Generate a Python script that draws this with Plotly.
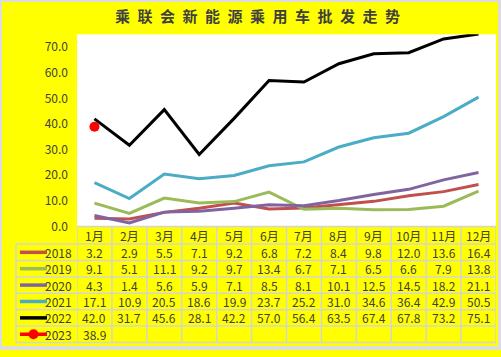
import plotly.graph_objects as go

months = ["1月", "2月", "3月", "4月", "5月", "6月", "7月", "8月", "9月", "10月", "11月", "12月"]
years = ["2018", "2019", "2020", "2021", "2022", "2023"]
v2018 = [3.2, 2.9, 5.5, 7.1, 9.2, 6.8, 7.2, 8.4, 9.8, 12.0, 13.6, 16.4]
v2019 = [9.1, 5.1, 11.1, 9.2, 9.7, 13.4, 6.7, 7.1, 6.5, 6.6, 7.9, 13.8]
v2020 = [4.3, 1.4, 5.6, 5.9, 7.1, 8.5, 8.1, 10.1, 12.5, 14.5, 18.2, 21.1]
v2021 = [17.1, 10.9, 20.5, 18.6, 19.9, 23.7, 25.2, 31.0, 34.6, 36.4, 42.9, 50.5]
v2022 = [42.0, 31.7, 45.6, 28.1, 42.2, 57.0, 56.4, 63.5, 67.4, 67.8, 73.2, 75.1]
v2023 = [38.9]
y_ticks = [0, 10, 20, 30, 40, 50, 60, 70]

series = [v2018, v2019, v2020, v2021, v2022, v2023]
colors = ["#c0504d", "#9bbb59", "#8064a2", "#4bacc6", "#000000", "#ff0000"]

W, H = 501, 357
FONT = "Noto Sans CJK SC"
TXT = "#404040"
GRID = "#d4d4d4"


def px(x):
    return x / W


def py(y):
    return 1 - y / H


fig = go.Figure()
for yr, vals, col in zip(years, series, colors):
    if yr == "2023":
        fig.add_trace(go.Scatter(x=months[:len(vals)], y=vals, mode="lines+markers",
                                 line=dict(color=col, width=3), marker=dict(color=col, size=10),
                                 name=yr, showlegend=False))
    else:
        fig.add_trace(go.Scatter(x=months[:len(vals)], y=vals, mode="lines",
                                 line=dict(color=col, width=3), name=yr, showlegend=False))

shapes = []
annotations = []

# outer gray border
for (x0, y0, x1, y1) in [(0, 0, W, 2), (0, 353, W, H), (0, 0, 2, H), (498, 0, W, H)]:
    shapes.append(dict(type="rect", xref="paper", yref="paper", x0=px(x0), x1=px(x1),
                       y0=py(y1), y1=py(y0), fillcolor="#dcdcdc", line=dict(width=0), layer="above"))

plot_left, plot_right = 77, 496
header_top, header_bot = 231, 249
row_h = (349.3 - 249) / 6
row_edges = [header_bot + k * row_h for k in range(7)]

# horizontal table lines
shapes.append(dict(type="line", xref="paper", yref="paper", x0=px(plot_left), x1=px(plot_right),
                   y0=py(header_top), y1=py(header_top), line=dict(color=GRID, width=1.5)))
for ye in row_edges:
    shapes.append(dict(type="line", xref="paper", yref="paper", x0=px(16), x1=px(plot_right),
                       y0=py(ye), y1=py(ye), line=dict(color=GRID, width=1.5)))
# vertical lines
shapes.append(dict(type="line", xref="paper", yref="paper", x0=px(16), x1=px(16),
                   y0=py(row_edges[0]), y1=py(row_edges[-1]), line=dict(color=GRID, width=1.5)))
for i in range(len(months) + 1):
    shapes.append(dict(type="line", xref="x", yref="paper", x0=i - 0.5, x1=i - 0.5,
                       y0=py(header_top), y1=py(row_edges[-1]), line=dict(color=GRID, width=1.5)))

# header
hdr_y = py((header_top + header_bot) / 2)
for m in months:
    annotations.append(dict(x=m, xref="x", y=hdr_y, yref="paper", text=m, showarrow=False,
                            font=dict(family=FONT, size=12, color=TXT), xanchor="center", yanchor="middle"))

# rows
for r, (yr, vals, col) in enumerate(zip(years, series, colors)):
    yc = py((row_edges[r] + row_edges[r + 1]) / 2)
    shapes.append(dict(type="line", xref="paper", yref="paper", x0=px(20), x1=px(47), y0=yc, y1=yc,
                       line=dict(color=col, width=3.5)))
    if yr == "2023":
        shapes.append(dict(type="circle", xref="paper", yref="paper", xsizemode="pixel", ysizemode="pixel",
                           xanchor=px(33.5), yanchor=yc, x0=-5, x1=5, y0=-5, y1=5,
                           fillcolor=col, line=dict(width=0)))
    annotations.append(dict(x=px(74), xref="paper", y=yc, yref="paper", text=yr, showarrow=False,
                            font=dict(family=FONT, size=12, color=TXT), xanchor="right", yanchor="middle"))
    for m, v in zip(months, vals):
        annotations.append(dict(x=m, xref="x", y=yc, yref="paper", text=f"{v:.1f}", showarrow=False,
                                font=dict(family=FONT, size=12, color=TXT), xanchor="center", yanchor="middle"))

# title
annotations.append(dict(x=px(257), xref="paper", y=py(16), yref="paper",
                        text="<b>" + "\u2002".join("乘联会新能源乘用车批发走势") + "</b>", showarrow=False,
                        font=dict(family=FONT, size=15, color=TXT), xanchor="center", yanchor="middle"))

fig.update_layout(
    width=W, height=H,
    margin=dict(l=0, r=0, t=0, b=0),
    paper_bgcolor="#ffff00",
    plot_bgcolor="#ffffff",
    showlegend=False,
    xaxis=dict(domain=[px(plot_left), px(plot_right)], range=[-0.5, 11.5], type="category",
               categoryorder="array", categoryarray=months,
               showticklabels=False, showgrid=False, zeroline=False, showline=False, ticks=""),
    yaxis=dict(domain=[py(231), py(35)], range=[0, 75], tickvals=y_ticks,
               ticktext=[f"{t:.1f}" for t in y_ticks], showgrid=False, zeroline=False, showline=False,
               tickfont=dict(family=FONT, size=12, color=TXT), ticks="", ticklabelstandoff=8),
    shapes=shapes,
    annotations=annotations,
)

fig.write_html("out.html", config={"displayModeBar": False},
               post_script="document.body.style.margin='0';document.body.style.overflow='hidden';")
